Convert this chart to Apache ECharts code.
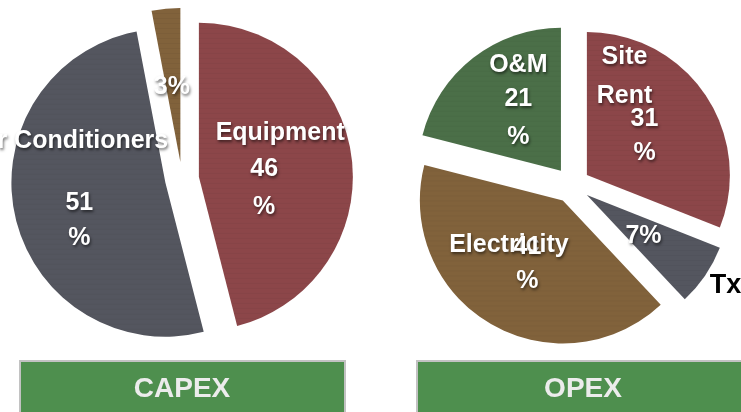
<!DOCTYPE html>
<html><head><meta charset="utf-8">
<script src="https://cdn.jsdelivr.net/npm/echarts@6/dist/echarts.min.js"></script>
<style>html,body{margin:0;padding:0;background:#fff}#c{width:741px;height:412px}</style>
</head><body><div id="c"></div>
<script>
// ---- data ----
const capexNames = ['Equipment', 'Air Conditioners', 'Other'];
const capexValues = [46, 51, 3];
const opexNames = ['Site Rent', 'Tx', 'Electricity', 'O&M'];
const opexValues = [31, 7, 41, 21];
const panelTitles = ['CAPEX', 'OPEX'];

// ---- styles ----
const FONT = "'Liberation Sans', Arial, sans-serif";
const SHADOW = {textShadowColor: 'rgba(0,0,0,0.55)', textShadowBlur: 3, textShadowOffsetX: 1, textShadowOffsetY: 2};
function tok(lh, extra) {
  return Object.assign({lineHeight: lh, fontFamily: FONT, fontSize: 25, fontWeight: 'bold', color: '#ffffff'}, SHADOW, extra || {});
}
const colors = {
  'Equipment': '#8c4649', 'Air Conditioners': '#54565f', 'Other': '#81623b',
  'Site Rent': '#8c4649', 'Tx': '#54565f', 'Electricity': '#81623b', 'O&M': '#4b6f48'
};
const labelCfg = {
  'Equipment': {fmt: p => `{n|${p.name}}\n{v|${p.value}}\n{v2|%}`,
    rich: {n: tok(35), v: tok(36, {padding: [0, 32, 0, 0]}), v2: tok(41, {padding: [0, 32, 0, 0]})}, dx: 2, dy: 5},
  'Air Conditioners': {fmt: p => `{n|${p.name}}\n{v|${p.value}}\n{v2|%}`,
    rich: {n: tok(88, {padding: [0, 36, 0, 0]}), v: tok(35, {padding: [0, 18, 0, 0]}), v2: tok(35, {padding: [0, 18, 0, 0]})}, dx: 1, dy: -24},
  'Other': {fmt: p => `{v|${p.value}%}`, rich: {v: tok(35)}, dx: -1, dy: 5},
  'Site Rent': {fmt: p => `{n|${p.name.split(' ')[0]}}\n{n2|${p.name.split(' ')[1]}}\n{v|${p.value}}\n{v2|%}`,
    rich: {n: tok(55), n2: tok(23), v: tok(23, {padding: [0, 0, 0, 40]}), v2: tok(45, {padding: [0, 0, 0, 40]})}, dx: -24, dy: -30},
  'Tx': {fmt: p => `{v|${p.value}%}\n{t|${p.name}}`,
    rich: {v: tok(49), t: {lineHeight: 49, fontFamily: FONT, fontSize: 27, fontWeight: 'bold', color: '#000000', padding: [0, 0, 0, 164], textShadowBlur: 0, textShadowOffsetX: 0, textShadowOffsetY: 0, textShadowColor: 'transparent'}}, dx: -5, dy: 24},
  'Electricity': {fmt: p => `{n|${p.name}}\n{v|${p.value}}\n{v2|%}`,
    rich: {n: tok(2), v: tok(2, {padding: [0, 0, 0, 37]}), v2: tok(66, {padding: [0, 0, 0, 37]})}, dx: -16, dy: 14},
  'O&M': {fmt: p => `{n|${p.name}}\n{v|${p.value}}\n{v2|%}`,
    rich: {n: tok(33), v: tok(34), v2: tok(43)}, dx: 3, dy: -8}
};

function buildData(names, values) {
  return names.map((n, i) => ({
    name: n, value: values[i], selected: true,
    itemStyle: {color: colors[n]},
    label: {formatter: labelCfg[n].fmt, rich: labelCfg[n].rich}
  }));
}
function pieSeries(names, values, center, radius, offset) {
  return {
    type: 'pie', center: center, radius: radius, startAngle: 90, clockwise: true,
    selectedMode: 'multiple', selectedOffset: offset,
    avoidLabelOverlap: false, silent: true, animation: false,
    itemStyle: {borderWidth: 0,
      decal: {symbol: 'rect', symbolSize: 1, dashArrayX: [1, 0], dashArrayY: [1, 4], color: 'rgba(0,0,0,0.04)'}},
    label: {show: true, position: 'inside', align: 'center', verticalAlign: 'middle'},
    labelLine: {show: false},
    emphasis: {disabled: true},
    labelLayout: function (p) {
      const c = labelCfg[names[p.dataIndex]];
      return {dx: c.dx, dy: c.dy};
    },
    data: buildData(names, values)
  };
}

const chart = echarts.init(document.getElementById('c'), null, {renderer: 'canvas'});
const boxStyle = {fill: '#4e8f4e', stroke: '#c2c2c2', lineWidth: 2};
const boxText = {fill: '#ececec', font: "bold 28px " + FONT, align: 'center', verticalAlign: 'middle'};
chart.setOption({
  backgroundColor: '#ffffff',
  animation: false,
  graphic: [
    {type: 'rect', shape: {x: 20, y: 361, width: 325, height: 60}, style: boxStyle, silent: true},
    {type: 'text', x: 182, y: 389, style: Object.assign({text: panelTitles[0]}, boxText), silent: true},
    {type: 'rect', shape: {x: 417, y: 361, width: 340, height: 60}, style: boxStyle, silent: true},
    {type: 'text', x: 583, y: 389, style: Object.assign({text: panelTitles[1]}, boxText), silent: true}
  ],
  series: [
    pieSeries(capexNames, capexValues, [182, 179], 154, 17),
    pieSeries(opexNames, opexValues, [572, 185], 143, 18)
  ]
});
</script>
</body></html>
